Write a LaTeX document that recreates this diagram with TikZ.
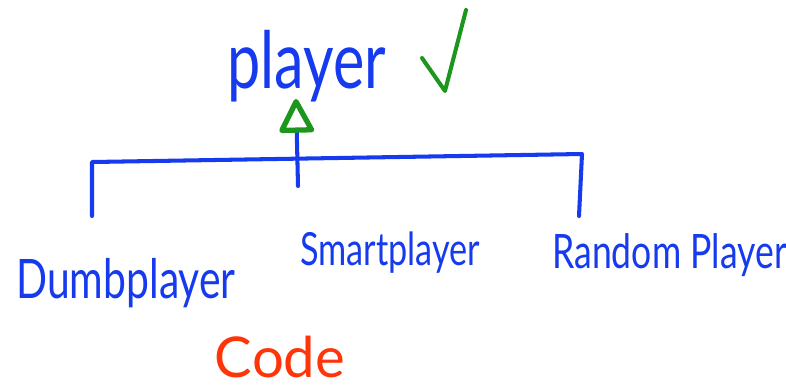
\documentclass[tikz,border=0pt]{standalone}
\usepackage{fontspec}
\usepackage{xcolor}
\usepackage{tikz}
\usetikzlibrary{arrows.meta}
\newfontfamily\handfont{Lato}[FakeStretch = 0.75]
\newfontfamily\plainhand{Lato}
\definecolor{inkblue}{RGB}{22, 58, 238}
\definecolor{inkgreen}{RGB}{28, 150, 28}
\definecolor{inkred}{RGB}{255, 52, 8}
\tikzset{
ink/.style = { draw = inkblue, line width = 2.3pt, line cap = round, line join = round },
tick/.style = { draw = inkgreen, line width = 2.3pt, line cap = round, line join = round },
classname/.style = { inkblue, inner sep = 0pt, font = \handfont\fontsize{#1}{#1}\selectfont },
}
\begin{document}
\begin{tikzpicture}[x = 0.02cm, y = -0.02cm]
    \useasboundingbox (0, 0) rectangle (786, 387);
    \node[classname = 45pt, anchor = base] (player) at (307, 88) {player};
    \node[classname = 31pt, anchor = base] (dumb) at (126, 298) {Dumbplayer};
    \node[classname = 26pt, anchor = base] (smart) at (390, 265) {Smartplayer};
    \node[classname = 27pt, anchor = base west] (random) at (552, 268) {Random Player};
    \node[inkred, inner sep = 0pt, font = \plainhand\fontsize{32pt}{32pt}\selectfont, anchor = base] (code) at (280, 377) {Code};
    \coordinate (dumbtop) at (92, 216);
    \coordinate (barleft) at (92, 162);
    \coordinate (barright) at (582, 154);
    \coordinate (randomtop) at (579, 216);
    \coordinate (smarttop) at (298, 186);
    \coordinate (tip) at (296, 99);
    \draw[ink] (dumbtop) -- (barleft) -- (barright) -- (randomtop);
    \draw[ink, -{Triangle[open, round, color = inkgreen, line width = 3pt, length = 0.74cm, width = 0.74cm]}] (smarttop) -- (tip);
    \draw[tick] (422, 58) -- (445, 91) -- (466, 10);
\end{tikzpicture}
\end{document}
